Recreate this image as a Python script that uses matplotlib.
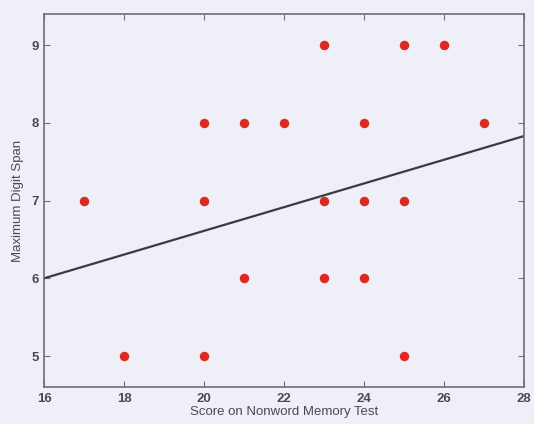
import matplotlib
matplotlib.use('Agg')
import matplotlib.pyplot as plt

# Nonword memory score vs maximum digit span, one dot per participant
nonword_score = [17, 18, 20, 20, 20, 21, 21, 22, 23, 23, 23, 24, 24, 24, 25, 25, 25, 26, 27]
digit_span = [7, 5, 8, 7, 5, 8, 6, 8, 9, 7, 6, 8, 7, 6, 9, 7, 5, 9, 8]

# Least-squares line, end points across the x range
fit_x = [16, 28]
fit_y = [6.0, 7.83]

x_ticks = [16, 18, 20, 22, 24, 26, 28]
y_ticks = [5, 6, 7, 8, 9]

BG = '#efeff7'
FRAME = '#6e6e76'
TEXT = '#4a4a52'

plt.rcParams['font.family'] = ['Liberation Sans', 'DejaVu Sans']

fig = plt.figure(figsize=(5.34, 4.24), dpi=100, facecolor=BG)
ax = fig.add_axes([0.0824, 0.087, 0.899, 0.880], facecolor=BG)

ax.plot(fit_x, fit_y, color='#3a3a40', linewidth=1.6, zorder=2)
ax.plot(nonword_score, digit_span, linestyle='none', marker='o', markersize=5.8,
        markerfacecolor='#dc2a22', markeredgecolor='#dc2a22', zorder=3)

ax.set_xlim(16, 28)
ax.set_ylim(4.6, 9.4)
ax.set_xticks(x_ticks)
ax.set_yticks(y_ticks)

for spine in ax.spines.values():
    spine.set_color(FRAME)
    spine.set_linewidth(1.2)

ax.tick_params(direction='in', length=4, width=0.8, color=FRAME,
               top=True, right=True, labelsize=9.5, labelcolor=TEXT, pad=4)
for lab in ax.get_xticklabels() + ax.get_yticklabels():
    lab.set_fontweight('bold')

ax.set_xlabel('Score on Nonword Memory Test', fontsize=9.5, color=TEXT, labelpad=1)
ax.set_ylabel('Maximum Digit Span', fontsize=9.5, color=TEXT, labelpad=5)

fig.savefig('out.png', dpi=100, facecolor=BG)
